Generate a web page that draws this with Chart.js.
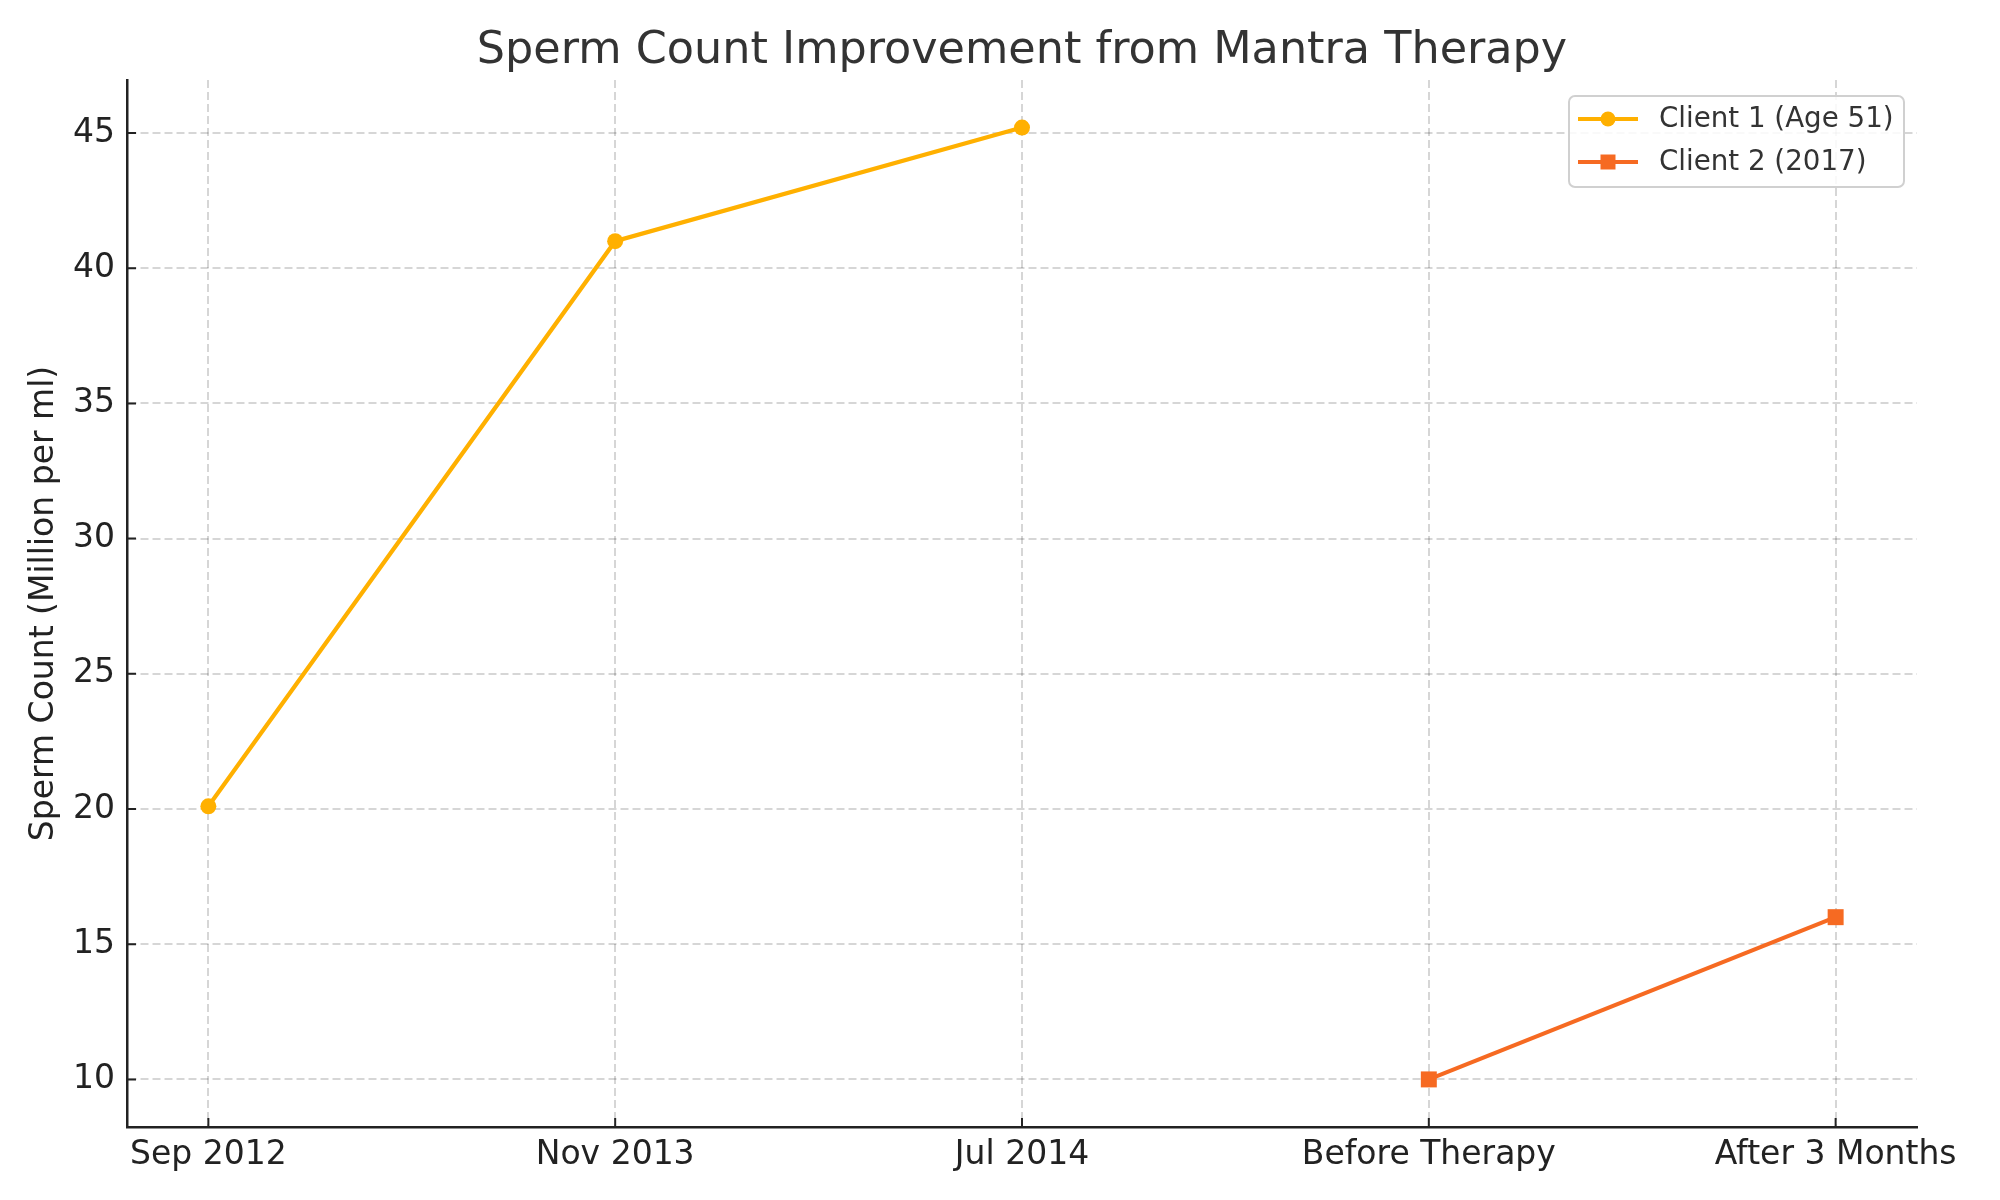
<!DOCTYPE html>
<html>
<head>
<meta charset="utf-8">
<script src="https://cdn.jsdelivr.net/npm/chart.js@4.4.1/dist/chart.umd.min.js"></script>
<style>
  html, body { margin: 0; padding: 0; background: #fff; }
  #wrap { width: 2000px; height: 1200px; position: relative; }
</style>
</head>
<body>
<div id="wrap"><canvas id="chart"></canvas></div>
<script>
// ========== DATA ==========
const CATEGORIES = ['Sep 2012', 'Nov 2013', 'Jul 2014', 'Before Therapy', 'After 3 Months'];
const CLIENT1_LABEL = 'Client 1 (Age 51)';
const CLIENT1_X = [0, 1, 2];
const CLIENT1_VALUES = [20.1, 41.0, 45.2];
const CLIENT2_LABEL = 'Client 2 (2017)';
const CLIENT2_X = [3, 4];
const CLIENT2_VALUES = [10.0, 16.0];
const Y_TICKS = [10, 15, 20, 25, 30, 35, 40, 45];

const COLORS = { c1: '#FFB000', c2: '#F66A22', axis: '#222222', grid: 'rgba(0,0,0,0.16)' };
const FONT = "'DejaVu Sans', 'Liberation Sans', sans-serif";

Chart.defaults.font.family = FONT;
Chart.defaults.color = '#222';

// ========== PLUGINS ==========

// matplotlib-style inward tick marks
const innerTicks = {
  id: 'innerTicks',
  afterDatasetsDraw(chart) {
    const { ctx, chartArea, scales } = chart;
    ctx.save();
    ctx.strokeStyle = COLORS.axis;
    ctx.lineWidth = 2;
    ctx.beginPath();
    scales.x.ticks.forEach(t => {
      const px = scales.x.getPixelForValue(t.value);
      ctx.moveTo(px, chartArea.bottom);
      ctx.lineTo(px, chartArea.bottom - 9);
    });
    scales.y.ticks.forEach(t => {
      const py = scales.y.getPixelForValue(t.value);
      ctx.moveTo(chartArea.left, py);
      ctx.lineTo(chartArea.left + 9, py);
    });
    ctx.stroke();
    ctx.restore();
  }
};

// legend box inside the plot, top-right
const boxLegend = {
  id: 'boxLegend',
  afterDraw(chart) {
    const { ctx, chartArea } = chart;
    const w = 335, h = 91, r = 6;
    const x0 = chartArea.right - 13 - w, y0 = chartArea.top + 16;
    ctx.save();
    ctx.beginPath();
    ctx.roundRect(x0, y0, w, h, r);
    ctx.fillStyle = 'rgba(255,255,255,0.85)';
    ctx.fill();
    ctx.strokeStyle = '#d0d0d0';
    ctx.lineWidth = 2;
    ctx.stroke();

    chart.data.datasets.forEach((ds, i) => {
      const cy = y0 + 23 + i * 43;
      const lx = x0 + 9;
      ctx.strokeStyle = ds.borderColor;
      ctx.lineWidth = 4;
      ctx.beginPath();
      ctx.moveTo(lx, cy);
      ctx.lineTo(lx + 60, cy);
      ctx.stroke();
      ctx.fillStyle = ds.borderColor;
      ctx.beginPath();
      if (ds.pointStyle === 'rect') ctx.rect(lx + 30 - 7.5, cy - 7.5, 15, 15);
      else ctx.arc(lx + 30, cy, 7.5, 0, Math.PI * 2);
      ctx.fill();
      ctx.fillStyle = '#333';
      ctx.font = `27.7px ${FONT}`;
      ctx.textBaseline = 'middle';
      ctx.fillText(ds.label, x0 + 90, cy + 1);
    });
    ctx.restore();
  }
};

// ========== CHART ==========

const toPoints = (xs, ys) => xs.map((x, i) => ({ x, y: ys[i] }));

new Chart(document.getElementById('chart'), {
  type: 'line',
  data: {
    datasets: [
      {
        label: CLIENT1_LABEL,
        data: toPoints(CLIENT1_X, CLIENT1_VALUES),
        borderColor: COLORS.c1,
        backgroundColor: COLORS.c1,
        borderWidth: 4.2,
        pointStyle: 'circle',
        pointRadius: 8,
        pointBorderWidth: 0,
        tension: 0,
      },
      {
        label: CLIENT2_LABEL,
        data: toPoints(CLIENT2_X, CLIENT2_VALUES),
        borderColor: COLORS.c2,
        backgroundColor: COLORS.c2,
        borderWidth: 4.2,
        pointStyle: 'rect',
        pointRadius: 11.3,
        pointBorderWidth: 0,
        tension: 0,
      },
    ]
  },
  options: {
    responsive: true,
    maintainAspectRatio: false,
    animation: false,
    layout: { padding: { left: 0, right: 83, top: 0, bottom: 0 } },
    plugins: {
      legend: { display: false },
      tooltip: { enabled: false },
      title: {
        display: true,
        fullSize: false,
        text: 'Sperm Count Improvement from Mantra Therapy',
        color: '#333',
        font: { size: 44.5, weight: 'normal' },
        padding: { top: 25, bottom: 1.6 },
      },
    },
    scales: {
      x: {
        type: 'linear',
        min: -0.2,
        max: 4.2,
        afterBuildTicks: s => { s.ticks = CATEGORIES.map((_, i) => ({ value: i })); },
        afterFit: s => { s.height = 73; },
        ticks: {
          autoSkip: false,
          maxRotation: 0,
          padding: 8.5,
          color: '#222',
          font: { size: 33 },
          callback: v => CATEGORIES[v],
        },
        grid: { color: COLORS.grid, lineWidth: 2, drawTicks: false },
        border: { display: true, color: COLORS.axis, width: 2.5, dash: [8, 4] },
      },
      y: {
        min: 8.24,
        max: 46.96,
        afterBuildTicks: s => { s.ticks = Y_TICKS.map(v => ({ value: v })); },
        afterFit: s => { s.width = 127; },
        title: {
          display: true,
          text: 'Sperm Count (Million per ml)',
          color: '#222',
          font: { size: 33 },
          padding: { top: 25, bottom: 0 },
        },
        ticks: { padding: 12, color: '#222', font: { size: 33 } },
        grid: { color: COLORS.grid, lineWidth: 2, drawTicks: false },
        border: { display: true, color: COLORS.axis, width: 2.5, dash: [8, 4] },
      }
    }
  },
  plugins: [innerTicks, boxLegend]
});
</script>
</body>
</html>
